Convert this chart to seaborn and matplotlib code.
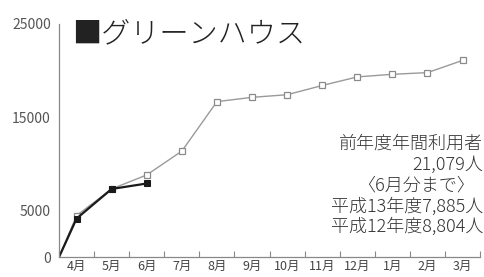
import numpy as np
import pandas as pd
import matplotlib
matplotlib.use("Agg")
import matplotlib.pyplot as plt
import seaborn as sns

months = ["4月", "5月", "6月", "7月", "8月", "9月", "10月", "11月", "12月", "1月", "2月", "3月"]
# 平成12年度 (previous year) cumulative users
prev_year = [4450, 7300, 8804, 11360, 16660, 17120, 17400, 18390, 19310, 19590, 19770, 21079]
# 平成13年度 (this year, up to June)
this_year = [4130, 7300, 7885]

notes = ["前年度年間利用者", "21,079人", "〈6月分まで〉", "平成13年度7,885人", "平成12年度8,804人"]

sns.set_theme(style="white")
plt.rcParams["font.family"] = ["Noto Sans CJK JP", "DejaVu Sans"]

fig = plt.figure(figsize=(4.84, 2.77), dpi=100)
ax = fig.add_axes([0.122, 0.072, 0.87, 0.842])

# lines start at the origin, points sit in the middle of each month
prev_df = pd.DataFrame({"x": [0] + [i + 0.5 for i in range(len(prev_year))],
                        "y": [0] + prev_year})
this_df = pd.DataFrame({"x": [0] + [i + 0.5 for i in range(len(this_year))],
                        "y": [0] + this_year})

sns.lineplot(data=prev_df, x="x", y="y", ax=ax, color="#9a9a9a", lw=1.0,
             marker="s", markersize=5, markerfacecolor="white",
             markeredgecolor="#8a8a8a", markeredgewidth=0.9,
             markevery=list(range(1, len(prev_df))))
sns.lineplot(data=this_df, x="x", y="y", ax=ax, color="#1a1a1a", lw=1.6,
             marker="s", markersize=5, markerfacecolor="#1a1a1a",
             markeredgecolor="#1a1a1a",
             markevery=list(range(1, len(this_df))))

ax.set_xlim(0, 12)
ax.set_ylim(0, 25000)
ax.set_xlabel("")
ax.set_ylabel("")

ax.set_xticks(range(0, 13))
ax.set_xticklabels([])
ax.set_xticks([i + 0.5 for i in range(12)], minor=True)
ax.set_xticklabels(months, minor=True, fontsize=9, color="#444444")
ax.tick_params(axis="x", which="major", direction="in", length=4, width=0.8,
               color="#888888", bottom=True)
ax.tick_params(axis="x", which="minor", length=0, pad=2)

ax.set_yticks([0, 5000, 15000, 25000])
ax.set_yticklabels(["0", "5000", "15000", "25000"], fontsize=10, color="#555555")
ax.tick_params(axis="y", length=0, pad=6)

for s in ["top", "right"]:
    ax.spines[s].set_visible(False)
for s in ["left", "bottom"]:
    ax.spines[s].set_color("#888888")
    ax.spines[s].set_linewidth(0.9)

fig.text(0.148, 0.877, "■グリーンハウス", fontsize=21, color="#222222",
         fontweight="light", va="center", ha="left")

ys = [0.480, 0.406, 0.330, 0.255, 0.181]
xs = [0.998, 0.998, 0.982, 0.998, 0.998]
for t, xx, yy in zip(notes, xs, ys):
    fig.text(xx, yy, t, fontsize=13, color="#333333", ha="right", va="center",
             fontweight="light")

fig.savefig("out.png", dpi=100)
